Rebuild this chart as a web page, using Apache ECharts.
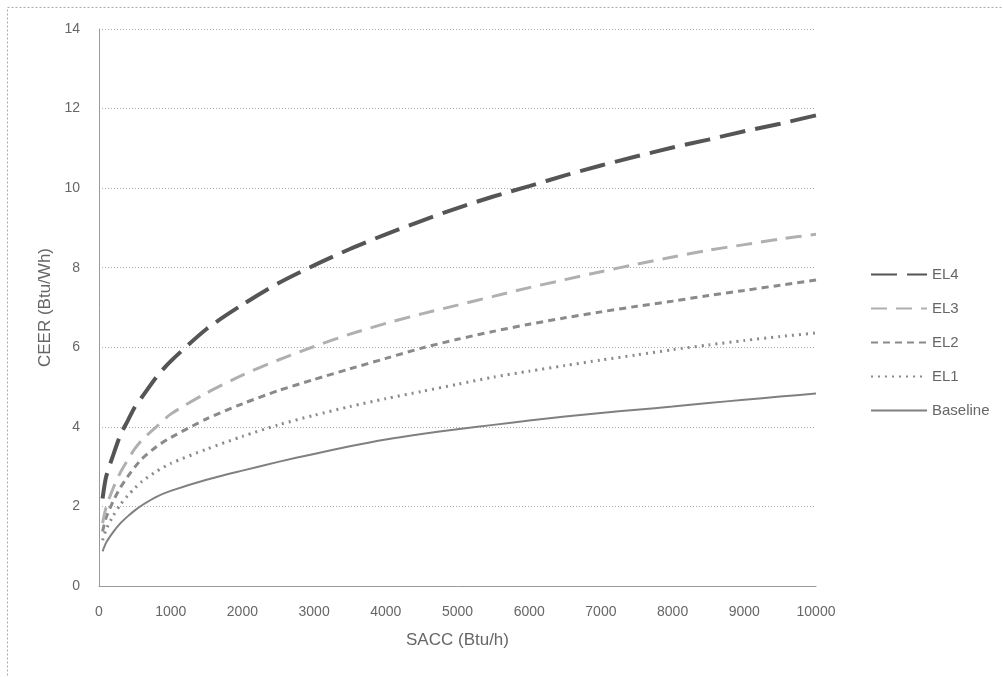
<!DOCTYPE html>
<html>
<head>
<meta charset="utf-8">
<script src="https://cdn.jsdelivr.net/npm/echarts@6/dist/echarts.min.js"></script>
<style>html,body{margin:0;padding:0;background:#fff;}#c{width:1003px;height:677px;}</style>
</head>
<body>
<div id="c"></div>
<script>
const xValues = [50,100,200,300,400,500,600,800,1000,1500,2000,2500,3000,3500,4000,4500,5000,5500,6000,6500,7000,7500,8000,8500,9000,9500,10000];
const baseline = [0.87,1.09,1.36,1.58,1.75,1.9,2.03,2.24,2.39,2.67,2.9,3.12,3.32,3.51,3.68,3.82,3.94,4.05,4.16,4.26,4.35,4.43,4.51,4.6,4.68,4.76,4.84];
const el1 = [1.15,1.42,1.77,2.05,2.27,2.46,2.63,2.88,3.08,3.44,3.76,4.05,4.29,4.51,4.71,4.89,5.07,5.25,5.4,5.54,5.68,5.81,5.94,6.06,6.17,6.27,6.36];
const el2 = [1.37,1.72,2.14,2.48,2.75,2.99,3.2,3.5,3.73,4.2,4.58,4.91,5.19,5.46,5.72,5.98,6.2,6.4,6.58,6.74,6.89,7.03,7.16,7.3,7.43,7.56,7.69];
const el3 = [1.58,1.98,2.47,2.86,3.17,3.45,3.67,4.0,4.32,4.85,5.3,5.68,6.02,6.33,6.6,6.84,7.06,7.28,7.5,7.7,7.9,8.09,8.27,8.44,8.58,8.72,8.84];
const el4 = [2.2,2.75,3.3,3.8,4.15,4.5,4.75,5.25,5.65,6.46,7.07,7.61,8.06,8.47,8.84,9.18,9.5,9.79,10.05,10.32,10.57,10.8,11.02,11.22,11.43,11.62,11.83];
const seriesNames = ['EL4','EL3','EL2','EL1','Baseline'];
const xTitle = 'SACC (Btu/h)';
const yTitle = 'CEER (Btu/Wh)';

const pairs = ys => xValues.map((x,i)=>[x, ys[i]]);
const font = 'Liberation Sans';

const chart = echarts.init(document.getElementById('c'));
chart.setOption({
  animation: false,
  backgroundColor: '#fff',
  textStyle: {fontFamily: font},
  graphic: [{
    type: 'rect', shape: {x: 7.5, y: 7.5, width: 1100, height: 800},
    style: {fill: 'none', stroke: '#aaa', lineWidth: 1, lineDash: [2, 2]}, silent: true
  }],
  grid: {left: 99, right: 187, top: 29, bottom: 91, containLabel: false},
  legend: {
    orient: 'vertical', left: 865, top: 262,
    itemWidth: 56, itemHeight: 14, itemGap: 19,
    itemStyle: {opacity: 0},
    textStyle: {color: '#666', fontSize: 15, fontFamily: font},
    data: seriesNames
  },
  xAxis: {
    type: 'value', min: 0, max: 10000, interval: 1000,
    name: xTitle, nameLocation: 'middle', nameGap: 46,
    nameTextStyle: {color: '#666', fontSize: 17, fontFamily: font},
    axisLine: {show: true, lineStyle: {color: '#999', width: 1}},
    axisTick: {show: false},
    axisLabel: {color: '#666', fontSize: 14, margin: 19, fontFamily: font, formatter: v => String(v)},
    splitLine: {show: false}
  },
  yAxis: {
    type: 'value', min: 0, max: 14, interval: 2,
    name: yTitle, nameLocation: 'middle', nameGap: 45, nameRotate: 90,
    nameTextStyle: {color: '#666', fontSize: 17, fontFamily: font},
    axisLine: {show: true, lineStyle: {color: '#999', width: 1}},
    axisTick: {show: false},
    axisLabel: {color: '#666', fontSize: 14, margin: 19, fontFamily: font},
    splitLine: {show: true, lineStyle: {color: '#aaa', type: [1, 2], width: 1}}
  },
  series: [
    {name: 'EL4', type: 'line', data: pairs(el4), symbol: 'none', smooth: 0.25, z: 5,
     lineStyle: {color: '#555', width: 4, type: [26, 10]}, itemStyle: {color: '#555'}},
    {name: 'EL3', type: 'line', data: pairs(el3), symbol: 'none', smooth: 0.25, z: 4,
     lineStyle: {color: '#b0b0b0', width: 3, type: [16, 9]}, itemStyle: {color: '#b0b0b0'}},
    {name: 'EL2', type: 'line', data: pairs(el2), symbol: 'none', smooth: 0.25, z: 3,
     lineStyle: {color: '#8a8a8a', width: 3, type: [7, 5]}, itemStyle: {color: '#8a8a8a'}},
    {name: 'EL1', type: 'line', data: pairs(el1), symbol: 'none', smooth: 0.25, z: 2,
     lineStyle: {color: '#8a8a8a', width: 3, type: [2, 5]}, itemStyle: {color: '#8a8a8a'}},
    {name: 'Baseline', type: 'line', data: pairs(baseline), symbol: 'none', smooth: 0.25, z: 1,
     lineStyle: {color: '#808080', width: 2}, itemStyle: {color: '#808080'}}
  ]
});
</script>
</body>
</html>
